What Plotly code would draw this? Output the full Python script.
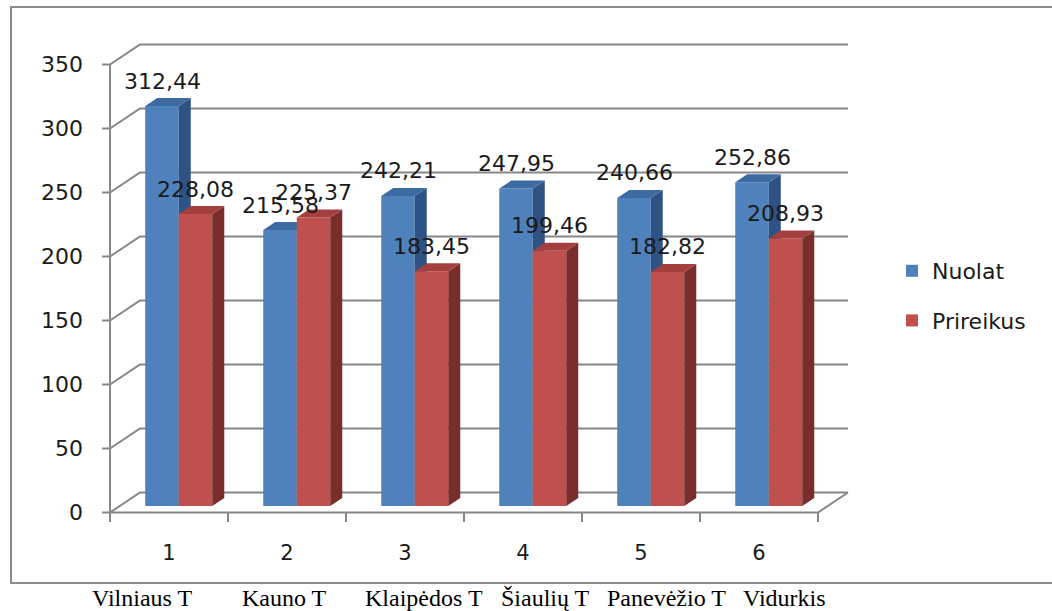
import plotly.graph_objects as go

# ---------------- data ----------------
categories = [1, 2, 3, 4, 5, 6]
category_labels = ["1", "2", "3", "4", "5", "6"]
region_names = ["Vilniaus T", "Kauno T", "Klaipėdos T", "Šiaulių T", "Panevėžio T", "Vidurkis"]
series_names = ["Nuolat", "Prireikus"]
nuolat = [312.44, 215.58, 242.21, 247.95, 240.66, 252.86]
prireikus = [228.08, 225.37, 183.45, 199.46, 182.82, 208.93]
y_ticks = [0, 50, 100, 150, 200, 250, 300, 350]

# ---------------- geometry / style ----------------
W, H = 1052, 611
ORX, ORY = 110, 512.5          # front origin (px)
PXC = 118                      # px per category
PXV = 1.28                     # px per value unit
PL, PR, PT, PB = 100, 870, 35, 526   # plot area (px)
WALL_DX_PX, WALL_DY_PX = 30, 20
BAR_F0, BAR_FD = 0.325, 0.4    # bar depth start / thickness (fraction of wall depth)
BAR_W_PX = 33.5
TICK_PX = 8

GRID = "#878787"
FRONT = ["#4F81BD", "#C0504D"]
SIDE = ["#2E5283", "#7A2E2C"]
TOP = ["#3E6AA2", "#A3403D"]
FONT = "DejaVu Sans"
TXT = "#1a1a1a"

DXW = WALL_DX_PX / PXC
DYW = WALL_DY_PX / PXV
x0 = 0.5 - (ORX - PL) / PXC
x1 = 0.5 + (PR - ORX) / PXC
y0 = -(PB - ORY) / PXV
y1 = (ORY - PT) / PXV
n = len(categories)
xl_front, xr_front = 0.5, n + 0.5
bw = BAR_W_PX / PXC
shift = BAR_F0 * DXW
base = BAR_F0 * DYW
ddx = BAR_FD * DXW
ddy = BAR_FD * DYW


def px2paper_x(p):
    return (p - PL) / (PR - PL)


def px2paper_y(p):
    return (PB - p) / (PB - PT)


fig = go.Figure()

# ---- walls / gridlines / axes (computed from tick values) ----
wx, wy = [], []
for v in y_ticks:
    wx += [xl_front - TICK_PX / PXC, xl_front, xl_front + DXW, xr_front + DXW, None]
    wy += [v, v, v + DYW, v + DYW, None]
wx += [xl_front, xl_front, None]
wy += [y_ticks[0], y_ticks[-1], None]
wx += [xl_front, xr_front, xr_front + DXW, None]
wy += [0, 0, DYW, None]
for k in range(n + 1):
    b = xl_front + k
    wx += [b, b, None]
    wy += [0, -9.5 / PXV, None]
fig.add_trace(go.Scatter(x=wx, y=wy, mode="lines", line=dict(color=GRID, width=2),
                         hoverinfo="skip", showlegend=False, zorder=0))

# ---- bars ----
for s, (name, vals) in enumerate(zip(series_names, [nuolat, prireikus])):
    centers = [c + shift + (s - 0.5) * bw for c in categories]
    fig.add_trace(go.Bar(x=centers, y=vals, base=[base] * n, width=[bw] * n, name=name,
                         marker=dict(color=FRONT[s], line=dict(width=0)),
                         legendgroup=name, zorder=1 + 2 * s))
    sx, sy, tx, ty = [], [], [], []
    for c, v in zip(centers, vals):
        xl, xr = c - bw / 2, c + bw / 2
        t = base + v
        sx += [xr, xr + ddx, xr + ddx, xr, xr, None]
        sy += [base, base + ddy, t + ddy, t, base, None]
        tx += [xl, xl + ddx, xr + ddx, xr, xl, None]
        ty += [t, t + ddy, t + ddy, t, t, None]
    fig.add_trace(go.Scatter(x=sx, y=sy, mode="lines", fill="toself", fillcolor=SIDE[s],
                             line=dict(width=0, color=SIDE[s]), hoverinfo="skip",
                             showlegend=False, zorder=2 + 2 * s))
    fig.add_trace(go.Scatter(x=tx, y=ty, mode="lines", fill="toself", fillcolor=TOP[s],
                             line=dict(width=0, color=TOP[s]), hoverinfo="skip",
                             showlegend=False, zorder=2 + 2 * s))
    for c, v in zip(centers, vals):
        fig.add_annotation(x=c, y=base + v, yshift=25, text=f"{v:.2f}".replace(".", ","),
                           showarrow=False, font=dict(family=FONT, size=22, color=TXT))

# ---- outer frame ----
fig.add_shape(type="rect", xref="paper", yref="paper",
              x0=px2paper_x(11), x1=px2paper_x(1070), y0=px2paper_y(583), y1=px2paper_y(7),
              line=dict(color="#8C8C8C", width=2), layer="below")

# ---- bottom caption line ----
name_centers_px = [141.5, 284, 424, 545, 666, 784.5]
for nm, cx in zip(region_names, name_centers_px):
    fig.add_annotation(xref="paper", yref="paper", x=px2paper_x(cx), y=px2paper_y(598),
                       text=nm, showarrow=False, xanchor="center", yanchor="middle",
                       font=dict(family="Liberation Serif", size=24, color="#000000"))

fig.update_layout(
    width=W, height=H, autosize=False,
    margin=dict(l=PL, r=W - PR, t=PT, b=H - PB, pad=0),
    paper_bgcolor="white", plot_bgcolor="white",
    barmode="overlay", showlegend=True,
    legend=dict(x=px2paper_x(892), y=px2paper_y(296), xanchor="left", yanchor="middle",
                font=dict(family=FONT, size=22, color=TXT), traceorder="grouped",
                tracegroupgap=18, bgcolor="rgba(0,0,0,0)"),
    xaxis=dict(range=[x0, x1], tickvals=categories, ticktext=category_labels, ticks="",
               showgrid=False, zeroline=False, showline=False, ticklabelstandoff=12,
               tickfont=dict(family=FONT, size=21, color=TXT), fixedrange=True),
    yaxis=dict(range=[y0, y1], tickvals=y_ticks, ticktext=[str(v) for v in y_ticks], ticks="",
               showgrid=False, zeroline=False, showline=False, ticklabelstandoff=16,
               tickfont=dict(family=FONT, size=22, color=TXT), fixedrange=True),
)

fig.write_html("out.html", config={"displayModeBar": False},
               post_script="document.body.style.margin='0px';document.body.style.overflow='hidden';")
